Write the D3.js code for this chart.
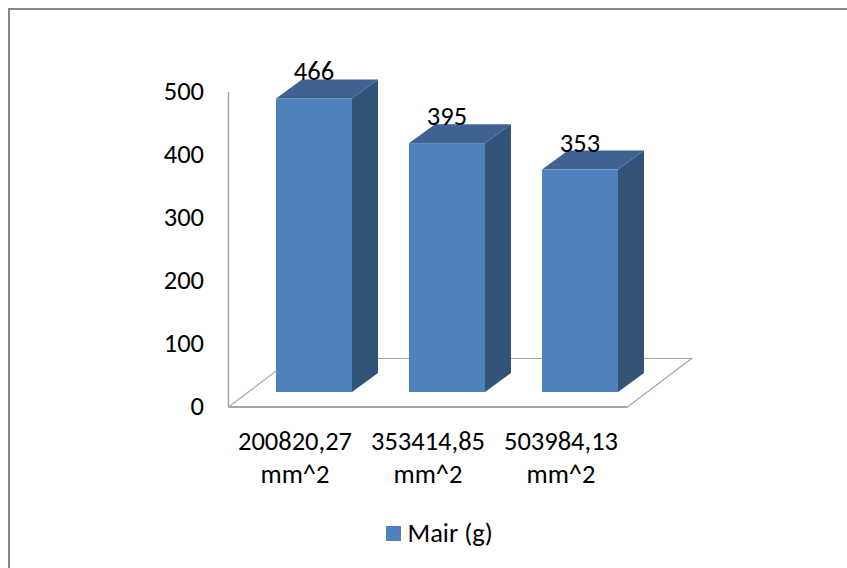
<!DOCTYPE html>
<html>
<head>
<meta charset="utf-8">
<script src="https://cdn.jsdelivr.net/npm/d3@7/dist/d3.min.js"></script>
<style>
html,body{margin:0;padding:0;background:#fff}
svg{display:block}
text{font-family:Carlito,"Open Sans","Noto Sans",sans-serif;fill:#000}
</style>
</head>
<body>
<svg id="chart" width="847" height="568"></svg>
<script>
const categories = ["200820,27", "353414,85", "503984,13"];
const categoryUnit = "mm^2";
const seriesName = "Mair (g)";
const values = [466, 395, 353];
const yTicks = [0, 100, 200, 300, 400, 500];

const colors = {front:"#4f81bd", side:"#325479", top:"#3e6392", axis:"#a6a6a6", frame:"#888888"};
const fontSize = 26.5;

const svg = d3.select("#chart");
const plot = {left:228.5, right:627.5, bottom:407, top:92};
const depth = {dx:64, dy:-48.5};
const barShift = {dx:19, dy:-15};
const barDepth = {dx:26, dy:-19};

const y = d3.scaleLinear().domain([0, 500]).range([plot.bottom, plot.top]);
const x = d3.scaleBand().domain(categories)
  .range([plot.left + barShift.dx, plot.right + barShift.dx])
  .paddingInner(0.4286).paddingOuter(0.2143);
const barWidth = x.bandwidth();

// Chart frame: only the top and left edges fall inside the canvas
svg.append("path").attr("d","M847,9H9V568").attr("fill","none")
  .attr("stroke",colors.frame).attr("stroke-width",2);

// Floor of the 3D plot and the vertical wall edge
const floor = d3.path();
floor.moveTo(plot.left, plot.bottom);
floor.lineTo(plot.left+depth.dx, plot.bottom+depth.dy);
floor.lineTo(plot.right+depth.dx, plot.bottom+depth.dy);
floor.lineTo(plot.right, plot.bottom);
svg.append("path").attr("d",floor.toString()).attr("fill","none").attr("stroke",colors.axis).attr("stroke-width",1.2);
svg.append("line").attr("x1",plot.left).attr("x2",plot.right).attr("y1",plot.bottom).attr("y2",plot.bottom)
  .attr("stroke",colors.axis).attr("stroke-width",2);
svg.append("line").attr("x1",plot.left).attr("x2",plot.left).attr("y1",plot.top).attr("y2",plot.bottom)
  .attr("stroke",colors.axis).attr("stroke-width",1.5);

// Value axis labels
svg.append("g").selectAll("text").data(yTicks).join("text")
  .attr("x",204).attr("y",d=>y(d)-1.2).attr("dy","0.36em").attr("text-anchor","end")
  .attr("font-size",fontSize).text(d=>d);

// Bars: front, side and top faces
const bars = svg.append("g").selectAll("g").data(categories.map((c,i)=>({c,v:values[i]}))).join("g");
const left = d=>x(d.c);
const base = plot.bottom+barShift.dy;
const headroom = d=>y(d.v)+barShift.dy;
bars.append("path").attr("fill",colors.side).attr("d",d=>{
  const r=left(d)+barWidth, t=headroom(d);
  return `M${r},${t}L${r+barDepth.dx},${t+barDepth.dy}L${r+barDepth.dx},${base+barDepth.dy}L${r},${base}Z`;
});
bars.append("path").attr("fill",colors.top).attr("d",d=>{
  const l=left(d), r=l+barWidth, t=headroom(d);
  return `M${l},${t}L${l+barDepth.dx},${t+barDepth.dy}L${r+barDepth.dx},${t+barDepth.dy}L${r},${t}Z`;
});
bars.append("rect").attr("fill",colors.front)
  .attr("x",left).attr("width",barWidth).attr("y",headroom).attr("height",d=>base-headroom(d));

// Data labels
bars.append("text").attr("x",d=>left(d)+barWidth/2).attr("y",d=>headroom(d)-18)
  .attr("text-anchor","middle").attr("font-size",fontSize).text(d=>d.v);

// Category labels on two lines, centred on the floor rather than the bars
const cat = svg.append("g").selectAll("text").data(categories).join("text")
  .attr("text-anchor","middle").attr("font-size",fontSize);
const catX = d=>x(d)+barWidth/2-barShift.dx;
cat.append("tspan").attr("x",catX).attr("y",450).text(d=>d);
cat.append("tspan").attr("x",catX).attr("y",483).text(categoryUnit);

// Legend
svg.append("rect").attr("x",386).attr("y",526).attr("width",15).attr("height",15).attr("fill",colors.front);
svg.append("text").attr("x",407.5).attr("y",542).attr("font-size",fontSize).text(seriesName);
</script>
</body>
</html>
